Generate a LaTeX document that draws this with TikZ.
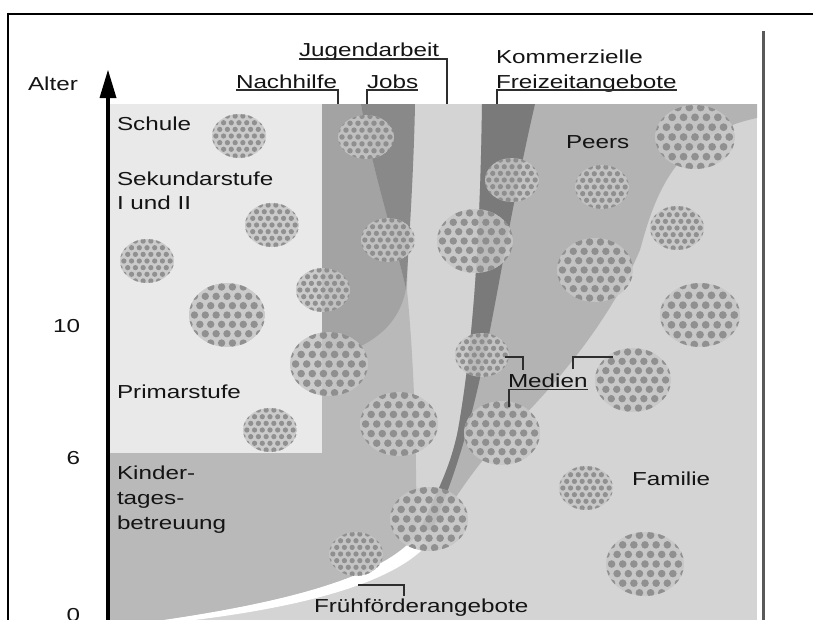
\documentclass[tikz,border=0pt]{standalone}
\usepackage{fontspec}
\setmainfont{Liberation Sans}
\usetikzlibrary{arrows.meta}
\definecolor{famcol}{HTML}{D4D4D4}
\definecolor{schulcol}{HTML}{E9E9E9}
\definecolor{kitacol}{HTML}{B9B9B9}
\definecolor{nachcol}{HTML}{A3A3A3}
\definecolor{jobcol}{HTML}{898989}
\definecolor{kommcol}{HTML}{7A7A7A}
\definecolor{peercol}{HTML}{B3B3B3}
\definecolor{txtcol}{HTML}{141414}
\definecolor{leadcol}{HTML}{2E2E2E}
\definecolor{blobbgcol}{HTML}{C6C6C6}
\definecolor{blobdotcol}{HTML}{8A8A8A}
\definecolor{rlinecol}{HTML}{5A5A5A}
\tikzset{
  lbl/.style={anchor=base west, inner sep=0pt, outer sep=0pt, text=txtcol, font=\fontsize{18.8}{22}\selectfont},
  lead/.style={draw=leadcol, line width=1.2pt},
  blobbg/.style={fill=blobbgcol, opacity=0.85},
  blobdot/.style={fill=blobdotcol, opacity=0.9},
  framel/.style={draw=black, line width=2pt},
}
\newcommand{\stx}[1]{\scalebox{1.29}[1]{#1}}
\newcommand{\blob}[4]{%
  \begin{scope}
    \clip (#1,#2) ellipse [x radius=#3, y radius=#4];
    \fill[blobbg] (#1,#2) ellipse [x radius=#3, y radius=#4];
    \pgfmathsetmacro\bsx{#3/3.5}
    \pgfmathsetmacro\bsy{\bsx*0.86}
    \pgfmathsetmacro\bdr{\bsx*0.34}
    \foreach \j in {-5,...,5}{
      \foreach \i in {-5,...,5}{
        \pgfmathsetmacro\bxx{#1+(\i+0.5*mod(\j+10,2))*\bsx}
        \pgfmathsetmacro\byy{#2+\j*\bsy}
        \fill[blobdot] (\bxx,\byy) circle [radius=\bdr];
      }
    }
  \end{scope}
}
\begin{document}
\begin{tikzpicture}[x=1pt,y=-1pt]
\useasboundingbox (0,0) rectangle (813,619);
\fill[white] (0,0) rectangle (813,619);
% Familie background
\fill[famcol] (110,104) rectangle (757,625);
% Kindertagesbetreuung region
\fill[kitacol] (110,104) -- (412,104) -- (407,290) .. controls (412,340) and (415,400) .. (416,470) -- (417,536)
  .. controls (382,576) and (292,602) .. (150,622) -- (110,622) -- cycle;
% Schule
\fill[schulcol] (110,104) rectangle (322,453);
% Nachhilfe
\fill[nachcol] (322,104) -- (361,104) .. controls (372,170) and (395,240) .. (406,289)
  .. controls (400,320) and (380,340) .. (345,353) .. controls (335,357) and (328,359) .. (322,360) -- cycle;
% Jobs
\fill[jobcol] (361,104) .. controls (372,170) and (395,240) .. (406,289)
  .. controls (410,230) and (414,160) .. (415,104) -- cycle;
% Peers
\fill[peercol] (482,104) -- (757,104) -- (757,118)
  .. controls (675,135) and (655,195) .. (640,250)
  .. controls (610,320) and (560,380) .. (510,430)
  .. controls (480,460) and (460,490) .. (440,522)
  -- (420,530) .. controls (435,495) and (450,470) .. (458,430)
  .. controls (472,350) and (480,250) .. (482,104) -- cycle;
% Kommerzielle Freizeitangebote
\fill[kommcol] (482,104) .. controls (480,250) and (472,350) .. (458,430)
  .. controls (450,470) and (435,495) .. (420,530)
  -- (432,530) .. controls (462,460) and (476,400) .. (488,340)
  .. controls (500,280) and (515,190) .. (535,104) -- cycle;
% Fruehfoerder stripe
\fill[white] (416,536) .. controls (382,576) and (292,602) .. (150,622) -- (178,622)
  .. controls (300,608) and (392,584) .. (428,544) -- cycle;
% textured circles
\blob{239}{136}{27}{22}
\blob{366}{137}{28}{22}
\blob{272}{225}{27}{22}
\blob{147}{261}{27}{22}
\blob{388}{240}{27}{22}
\blob{227}{315}{38}{32}
\blob{323}{290}{27}{22}
\blob{329}{364}{39}{32}
\blob{270}{430}{27}{22}
\blob{399}{424}{39}{32}
\blob{512}{180}{27}{22}
\blob{602}{187}{27}{22}
\blob{695}{137}{40}{32}
\blob{475}{241}{38}{32}
\blob{677}{228}{27}{22}
\blob{595}{270}{38}{32}
\blob{700}{315}{40}{32}
\blob{482}{355}{27}{22}
\blob{633}{380}{38}{32}
\blob{502}{433}{38}{32}
\blob{429}{519}{39}{32}
\blob{356}{554}{27}{22}
\blob{586}{488}{27}{22}
\blob{645}{564}{39}{32}
% frame
\draw[framel] (7,13.5) -- (815,13.5);
\draw[framel] (8,12.5) -- (8,625);
\draw[draw=rlinecol, line width=3pt] (763.5,31) -- (763.5,625);
% axis
\draw[line width=4pt, draw=black] (108,625) -- (108,95);
\fill[black] (108,70) -- (99.5,98) -- (116.5,98) -- cycle;
% axis labels
\node[lbl] (alter) at (28,90) {\stx{Alter}};
\node[lbl, anchor=base east] (t10) at (80,332) {\stx{10}};
\node[lbl, anchor=base east] (t6) at (80,464) {\stx{6}};
\node[lbl, anchor=base east] (t0) at (80,621) {\stx{0}};
% top labels
\node[lbl] (jugend) at (299,56) {\stx{Jugendarbeit}};
\node[lbl] (nach) at (236,88) {\stx{Nachhilfe}};
\node[lbl] (jobs) at (367,88) {\stx{Jobs}};
\node[lbl] (komm) at (496,63) {\stx{Kommerzielle}};
\node[lbl] (frei) at (496,88) {\stx{Freizeitangebote}};
\coordinate (jugendEnd) at (447,104);
\coordinate (nachEnd) at (338,104);
\coordinate (jobsEnd) at (367,104);
\coordinate (freiEnd) at (497,104);
\draw[lead] ([yshift=-3pt]jugend.base west) -| (jugendEnd);
\draw[lead] ([yshift=-2pt]nach.base west) -| (nachEnd);
\draw[lead] ([yshift=-2pt]jobs.base east) -| (jobsEnd);
\draw[lead] ([yshift=-2pt]frei.base east) -| (freiEnd);
% inner labels
\node[lbl] (schule) at (117,130) {\stx{Schule}};
\node[lbl] (sek1) at (117,185) {\stx{Sekundarstufe}};
\node[lbl] (sek2) at (117,209) {\stx{I und II}};
\node[lbl] (prim) at (117,398) {\stx{Primarstufe}};
\node[lbl] (kita1) at (117,479) {\stx{Kinder-}};
\node[lbl] (kita2) at (117,504) {\stx{tages-}};
\node[lbl] (kita3) at (117,529) {\stx{betreuung}};
\node[lbl] (peers) at (566,148) {\stx{Peers}};
\node[lbl] (familie) at (632,485) {\stx{Familie}};
\node[lbl] (medien) at (508,387) {\stx{Medien}};
\node[lbl] (frueh) at (314,612) {\stx{Frühförderangebote}};
% Medien leaders
\coordinate (medL) at (505,357);
\coordinate (medLc) at (523,357);
\coordinate (medLe) at (523,370);
\coordinate (medR) at (613,357);
\coordinate (medRc) at (573,357);
\coordinate (medRe) at (573,369);
\coordinate (medD) at (509,407);
\draw[lead] (medL) -- (medLc) -- (medLe);
\draw[lead] (medRe) -- (medRc) -- (medR);
\draw[lead] ([yshift=-2.5pt]medien.base west) -- ([yshift=-2.5pt]medien.base east);
\draw[lead] ([xshift=1pt,yshift=-2.5pt]medien.base west) -- (medD);
% Fruehfoerder leader
\coordinate (frA) at (358,585);
\coordinate (frB) at (404,585);
\coordinate (frC) at (404,596);
\draw[lead] (frA) -- (frB) -- (frC);
\end{tikzpicture}
\end{document}
